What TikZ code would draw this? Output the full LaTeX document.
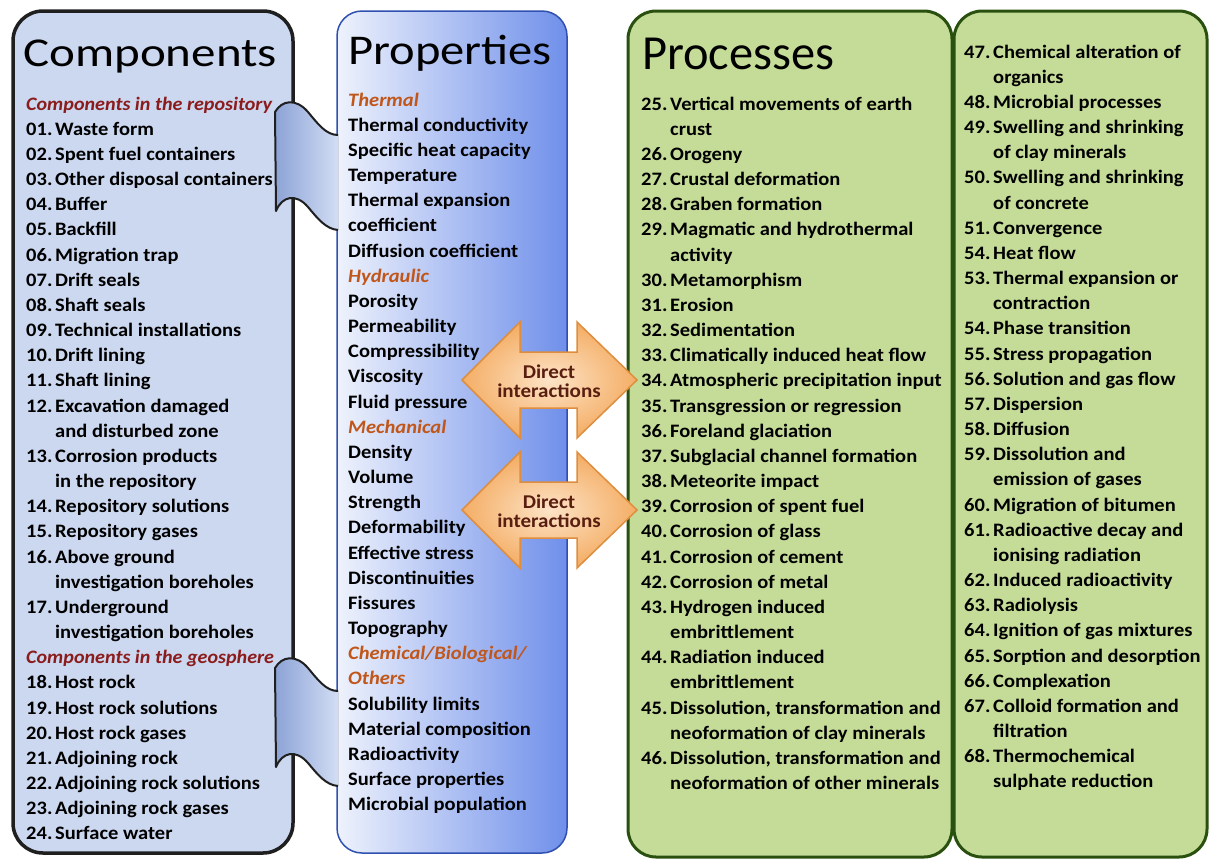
\documentclass[tikz,border=0pt]{standalone}
\usepackage{fontspec}
\setmainfont{Carlito}[FakeStretch=1.08]
\usepackage{graphicx}
\definecolor{compFill}{HTML}{CBD8F0}
\definecolor{compBorder}{HTML}{1F1F1F}
\definecolor{propL}{HTML}{EEF2FC}
\definecolor{propR}{HTML}{6F8FEA}
\definecolor{propB}{HTML}{3050B0}
\definecolor{greenFill}{HTML}{C5DC98}
\definecolor{greenB}{HTML}{2A5010}
\definecolor{hdRed}{HTML}{8B1C1C}
\definecolor{hdOrange}{HTML}{C0561A}
\definecolor{ribL}{HTML}{8CA3D6}
\definecolor{ribR}{HTML}{D2DDF4}
\definecolor{arrIn}{HTML}{FDE3C6}
\definecolor{arrOut}{HTML}{F4AE66}
\definecolor{arrB}{HTML}{DE8E3E}
\definecolor{arrText}{HTML}{5A1E10}
\newcommand\Itm[2]{\makebox[29pt][l]{#1}#2}
\newcommand\Cnt[1]{\hspace*{29pt}#1}
\newcommand\HdC[1]{{\itshape\color{hdRed}\scalebox{0.98}[1]{#1}}}
\newcommand\HdP[1]{{\itshape\color{hdOrange}#1}}
\tikzset{
  txt/.style={anchor=base west, inner sep=0pt, font=\bfseries\fontsize{19}{23}\selectfont, text=black},
  ttl/.style={anchor=base west, inner sep=0pt, text=black},
  greenbox/.style={draw=greenB, fill=greenFill, line width=3pt, rounded corners=28pt},
  arrowshape/.style={draw=arrB, line width=1.5pt, inner color=arrIn, outer color=arrOut},
  arrlabel/.style={align=center, inner sep=0pt, text=arrText, font=\bfseries\fontsize{19.5}{19.5}\selectfont},
  riboutline/.style={draw=compBorder, line width=2pt, line join=round}
}
\begin{document}
\begin{tikzpicture}[x=1pt,y=-1pt]
\useasboundingbox (0,0) rectangle (1210,860);
\fill[white] (0,0) rectangle (1210,860);

% boxes
\path[draw=compBorder, fill=compFill, line width=3.5pt, rounded corners=30pt] (13,11) rectangle (293,853);
\path[left color=propL, right color=propR, draw=propB, line width=1.5pt, rounded corners=25pt] (337,11) rectangle (567,853);
\path[greenbox] (628,11) rectangle (952,857);
\path[greenbox] (954,11) rectangle (1207,857);

% ribbons
\foreach \dy in {0,556}{
  \begin{scope}[shift={(0,\dy)}]
    \fill[left color=ribL, right color=ribR]
      (275,112) .. controls (282,100) and (296,98) .. (308,112)
      .. controls (318,124) and (326,135) .. (338,135) -- (338,230)
      .. controls (326,229) and (318,219) .. (308,207)
      .. controls (296,193) and (282,196) .. (276,211) -- cycle;
    \draw[riboutline]
      (338,135) .. controls (326,135) and (318,124) .. (308,112)
      .. controls (296,98) and (282,100) .. (275,112) -- (276,211)
      .. controls (282,196) and (296,193) .. (308,207)
      .. controls (318,219) and (326,229) .. (338,230);
  \end{scope}
}

% double arrows
\foreach \dy in {0,130}{
  \begin{scope}[shift={(0,\dy)}]
    \path[arrowshape] (462,380) -- (520,322) -- (520,352) -- (577,352) -- (577,322) -- (637,380)
      -- (577,438) -- (577,408) -- (520,408) -- (520,438) -- cycle;
  \end{scope}
}
\node[arrlabel] (da1) at (549,381) {Direct\\interactions};
\node[arrlabel] (da2) at (549,511) {Direct\\interactions};

% titles
\node[ttl] (tcomp) at (23,66) {\scalebox{1.107}[1]{\fontsize{41}{44}\selectfont Components}};
\node[ttl] (tprop) at (348,64) {\scalebox{1.06}[1]{\fontsize{42.4}{44}\selectfont Properties}};
\node[ttl] (tproc) at (642,69) {\scalebox{0.915}[1]{\fontsize{49}{50}\selectfont Processes}};

% Components
\foreach \t [count=\i from 0] in {
 {\HdC{Components in the repository}},
 {\Itm{01.}{Waste form}},
 {\Itm{02.}{Spent fuel containers}},
 {\Itm{03.}{Other disposal containers}},
 {\Itm{04.}{Buffer}},
 {\Itm{05.}{Backfill}},
 {\Itm{06.}{Migration trap}},
 {\Itm{07.}{Drift seals}},
 {\Itm{08.}{Shaft seals}},
 {\Itm{09.}{Technical installations}},
 {\Itm{10.}{Drift lining}},
 {\Itm{11.}{Shaft lining}},
 {\Itm{12.}{Excavation damaged}},
 {\Cnt{and disturbed zone}},
 {\Itm{13.}{Corrosion products}},
 {\Cnt{in the repository}},
 {\Itm{14.}{Repository solutions}},
 {\Itm{15.}{Repository gases}},
 {\Itm{16.}{Above ground}},
 {\Cnt{investigation boreholes}},
 {\Itm{17.}{Underground}},
 {\Cnt{investigation boreholes}},
 {\HdC{Components in the geosphere}},
 {\Itm{18.}{Host rock}},
 {\Itm{19.}{Host rock solutions}},
 {\Itm{20.}{Host rock gases}},
 {\Itm{21.}{Adjoining rock}},
 {\Itm{22.}{Adjoining rock solutions}},
 {\Itm{23.}{Adjoining rock gases}},
 {\Itm{24.}{Surface water}}}
 \node[txt] (comp\i) at (26,{110+25.17*\i}) {\t};

% Properties
\foreach \t [count=\i from 0] in {
 {\HdP{Thermal}},
 {Thermal conductivity},
 {Specific heat capacity},
 {Temperature},
 {Thermal expansion},
 {coefficient},
 {Diffusion coefficient},
 {\HdP{Hydraulic}},
 {Porosity},
 {Permeability},
 {Compressibility},
 {Viscosity},
 {Fluid pressure},
 {\HdP{Mechanical}},
 {Density},
 {Volume},
 {Strength},
 {Deformability},
 {Effective stress},
 {Discontinuities},
 {Fissures},
 {Topography},
 {\HdP{Chemical/Biological/}},
 {\HdP{Others}},
 {Solubility limits},
 {Material composition},
 {Radioactivity},
 {Surface properties},
 {Microbial population}}
 \node[txt] (prop\i) at (348,{106+25.17*\i}) {\t};

% Processes
\foreach \t [count=\i from 0] in {
 {\Itm{25.}{Vertical movements of earth}},
 {\Cnt{crust}},
 {\Itm{26.}{Orogeny}},
 {\Itm{27.}{Crustal deformation}},
 {\Itm{28.}{Graben formation}},
 {\Itm{29.}{Magmatic and hydrothermal}},
 {\Cnt{activity}},
 {\Itm{30.}{Metamorphism}},
 {\Itm{31.}{Erosion}},
 {\Itm{32.}{Sedimentation}},
 {\Itm{33.}{Climatically induced heat flow}},
 {\Itm{34.}{Atmospheric precipitation input}},
 {\Itm{35.}{Transgression or regression}},
 {\Itm{36.}{Foreland glaciation}},
 {\Itm{37.}{Subglacial channel formation}},
 {\Itm{38.}{Meteorite impact}},
 {\Itm{39.}{Corrosion of spent fuel}},
 {\Itm{40.}{Corrosion of glass}},
 {\Itm{41.}{Corrosion of cement}},
 {\Itm{42.}{Corrosion of metal}},
 {\Itm{43.}{Hydrogen induced}},
 {\Cnt{embrittlement}},
 {\Itm{44.}{Radiation induced}},
 {\Cnt{embrittlement}},
 {\Itm{45.}{Dissolution, transformation and}},
 {\Cnt{neoformation of clay minerals}},
 {\Itm{46.}{Dissolution, transformation and}},
 {\Cnt{neoformation of other minerals}}}
 \node[txt] (proc\i) at (641,{110+25.17*\i}) {\t};

% Processes, second column
\foreach \t [count=\i from 0] in {
 {\Itm{47.}{Chemical alteration of}},
 {\Cnt{organics}},
 {\Itm{48.}{Microbial processes}},
 {\Itm{49.}{Swelling and shrinking}},
 {\Cnt{of clay minerals}},
 {\Itm{50.}{Swelling and shrinking}},
 {\Cnt{of concrete}},
 {\Itm{51.}{Convergence}},
 {\Itm{54.}{Heat flow}},
 {\Itm{53.}{Thermal expansion or}},
 {\Cnt{contraction}},
 {\Itm{54.}{Phase transition}},
 {\Itm{55.}{Stress propagation}},
 {\Itm{56.}{Solution and gas flow}},
 {\Itm{57.}{Dispersion}},
 {\Itm{58.}{Diffusion}},
 {\Itm{59.}{Dissolution and}},
 {\Cnt{emission of gases}},
 {\Itm{60.}{Migration of bitumen}},
 {\Itm{61.}{Radioactive decay and}},
 {\Cnt{ionising radiation}},
 {\Itm{62.}{Induced radioactivity}},
 {\Itm{63.}{Radiolysis}},
 {\Itm{64.}{Ignition of gas mixtures}},
 {\Itm{65.}{Sorption and desorption}},
 {\Itm{66.}{Complexation}},
 {\Itm{67.}{Colloid formation and}},
 {\Cnt{filtration}},
 {\Itm{68.}{Thermochemical}},
 {\Cnt{sulphate reduction}}}
 \node[txt] (procb\i) at (964,{58+25.17*\i}) {\t};
\end{tikzpicture}
\end{document}
